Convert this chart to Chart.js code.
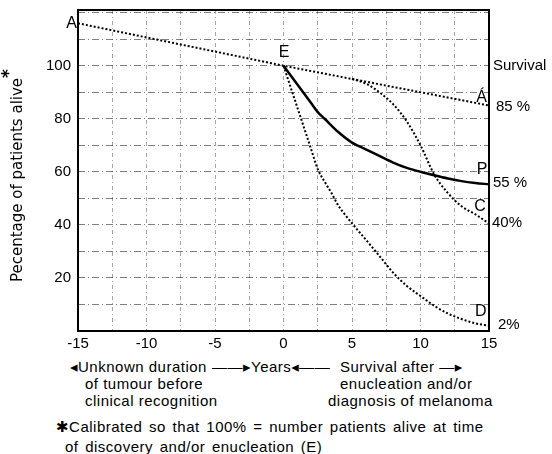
<!DOCTYPE html>
<html lang="en">
<head>
<meta charset="UTF-8" />
<title>Survival curves</title>
<script src="https://cdn.jsdelivr.net/npm/chart.js"></script>
<style>
  html, body { margin: 0; padding: 0; background: #fff; }
  body {
    width: 552px; height: 454px; position: relative; overflow: hidden;
    font-family: 'Liberation Sans', 'DejaVu Sans', sans-serif; color: #000;
  }
  .wrap { position: absolute; left: 0; top: 0; width: 552px; height: 356px; }
  .note { position: absolute; font-size: 15px; line-height: 17px; white-space: nowrap; letter-spacing: 0.5px; }
  .foot { word-spacing: 2px; }
</style>
</head>
<body>
  <div class="wrap"><canvas id="chart"></canvas></div>

  <div class="note" style="left:70px; top:358px;">◂Unknown duration</div>
  <div class="note" style="left:212px; top:358px;">——▸Years◂——</div>
  <div class="note" style="left:340px; top:358px;">Survival after —▸</div>
  <div class="note" style="left:85px; top:375px;">of tumour before</div>
  <div class="note" style="left:340px; top:375px;">enucleation and/or</div>
  <div class="note" style="left:85px; top:392px;">clinical recognition</div>
  <div class="note" style="left:328px; top:392px;">diagnosis of melanoma</div>
  <div class="note foot" style="left:56px; top:418px;">✱Calibrated so that 100% = number patients alive at time</div>
  <div class="note foot" style="left:65px; top:438px;">of discovery and/or enucleation (E)</div>

  <script>
    // years from clinical recognition (E = 0)
    const lineAX = [-15, 0, 15];
    const lineAY = [116, 100, 85];

    const curvePX = [0, 1, 2, 2.5, 3, 4, 5, 6, 7, 8, 9, 10, 11, 12, 13, 14, 15];
    const curvePY = [100, 93, 86, 82.5, 80, 75, 71, 68.5, 66, 63.5, 61.5, 60, 58.7, 57.5, 56.5, 55.8, 55.3];

    const curveCX = [5, 6, 7, 8, 9, 10, 11, 12, 13, 14, 15];
    const curveCY = [95, 93.3, 90, 85.5, 79, 70, 59, 52, 47, 44, 40.5];

    const curveDX = [0, 0.5, 1, 1.5, 2, 2.5, 3, 3.5, 4, 4.5, 5, 6, 7, 8, 9, 10, 11, 12, 13, 14, 15];
    const curveDY = [100, 92.2, 84.4, 76.6, 68.8, 61, 56.3, 52, 47.3, 43.8, 40.6, 34.5, 28.3, 22, 17, 13.2, 9.5, 6.6, 4.5, 2.9, 2];

    const xLabels = [-15, -10, -5, 0, 5, 10, 15];
    const yLabels = [20, 40, 60, 80, 100];

    // right-hand survival labels: [text, value, gap from frame]
    const endLabels = [['Survival', 100, 4], ['85 %', 84.5, 7], ['55 %', 55.8, 4], ['40%', 40.8, 3], ['2%', 2.3, 9]];
    // curve letters: [text, x, y]
    const curveLetters = [['E', 0.05, 105], ['Á', 14.45, 88], ['P', 14.5, 60.8], ['C', 14.35, 47], ['D', 14.4, 7.4]];

    const pts = (xs, ys) => xs.map((x, i) => ({ x: x, y: ys[i] }));
    const FONT = "15px 'Liberation Sans', 'DejaVu Sans', sans-serif";

    const decor = {
      id: 'decor',
      afterDatasetsDraw(chart) {
        const { ctx, chartArea: a, scales: { x, y } } = chart;
        ctx.save();
        // frame
        ctx.strokeStyle = '#000';
        ctx.lineWidth = 2;
        ctx.strokeRect(a.left, a.top, a.right - a.left, a.bottom - a.top);

        ctx.fillStyle = '#000';
        ctx.textBaseline = 'middle';

        // A at left edge
        ctx.font = "16px 'Liberation Sans', sans-serif";
        ctx.textAlign = 'right';
        ctx.fillText('A', a.left - 1, y.getPixelForValue(lineAY[0]));

        ctx.textAlign = 'center';
        curveLetters.forEach(([t, vx, vy]) => {
          ctx.fillText(t, x.getPixelForValue(vx), y.getPixelForValue(vy));
        });

        ctx.font = FONT;
        ctx.textAlign = 'left';
        endLabels.forEach(([t, v, gap]) => {
          ctx.fillText(t, a.right + gap, y.getPixelForValue(v));
        });

        // y axis title with raised asterisk
        const title = 'Pecentage of patients alive';
        ctx.font = "15px 'DejaVu Sans', sans-serif";
        ctx.translate(18, 180);
        ctx.rotate(-Math.PI / 2);
        ctx.textAlign = 'center';
        ctx.fillText(title, 0, 0);
        const w = ctx.measureText(title).width;
        ctx.font = "bold 17px 'DejaVu Sans', sans-serif";
        ctx.textAlign = 'left';
        ctx.fillText('*', w / 2, -8);
        ctx.restore();
      }
    };

    const dotted = { borderColor: '#000', borderWidth: 2, borderDash: [2, 2], pointRadius: 0, fill: false };

    new Chart(document.getElementById('chart'), {
      type: 'line',
      data: {
        datasets: [
          Object.assign({ label: 'A', data: pts(lineAX, lineAY) }, dotted),
          Object.assign({ label: 'C', data: pts(curveCX, curveCY), cubicInterpolationMode: 'monotone' }, dotted),
          Object.assign({ label: 'D', data: pts(curveDX, curveDY), cubicInterpolationMode: 'monotone' }, dotted),
          { label: 'P', data: pts(curvePX, curvePY), borderColor: '#000', borderWidth: 2.5,
            pointRadius: 0, fill: false, cubicInterpolationMode: 'monotone' }
        ]
      },
      options: {
        responsive: true,
        maintainAspectRatio: false,
        animation: false,
        layout: { padding: { top: 10, right: 63, left: 0, bottom: 0 } },
        plugins: { legend: { display: false }, tooltip: { enabled: false } },
        scales: {
          x: {
            type: 'linear', min: -15, max: 15,
            afterFit: s => { s.height = 25; s.paddingLeft = 0; s.paddingRight = 0; },
            ticks: {
              stepSize: 2.5, padding: 4, color: '#000', font: { family: "'Liberation Sans', sans-serif", size: 15 },
              maxRotation: 0, autoSkip: false,
              callback: v => xLabels.includes(v) ? String(v) : ''
            },
            grid: { color: 'rgba(0,0,0,0.35)', lineWidth: 1, drawTicks: false },
            border: { display: false, dash: [4, 3, 1, 3] }
          },
          y: {
            min: 0, max: 121,
            afterFit: s => { s.width = 78; s.paddingTop = 0; s.paddingBottom = 0; },
            ticks: {
              stepSize: 10, padding: 7, color: '#000', includeBounds: false,
              font: { family: "'Liberation Sans', sans-serif", size: 15 },
              callback: v => yLabels.includes(v) ? String(v) : ''
            },
            grid: { color: 'rgba(0,0,0,0.5)', lineWidth: 1, drawTicks: false },
            border: { display: false, dash: [7, 3, 1, 3] }
          }
        }
      },
      plugins: [decor]
    });
  </script>
</body>
</html>
